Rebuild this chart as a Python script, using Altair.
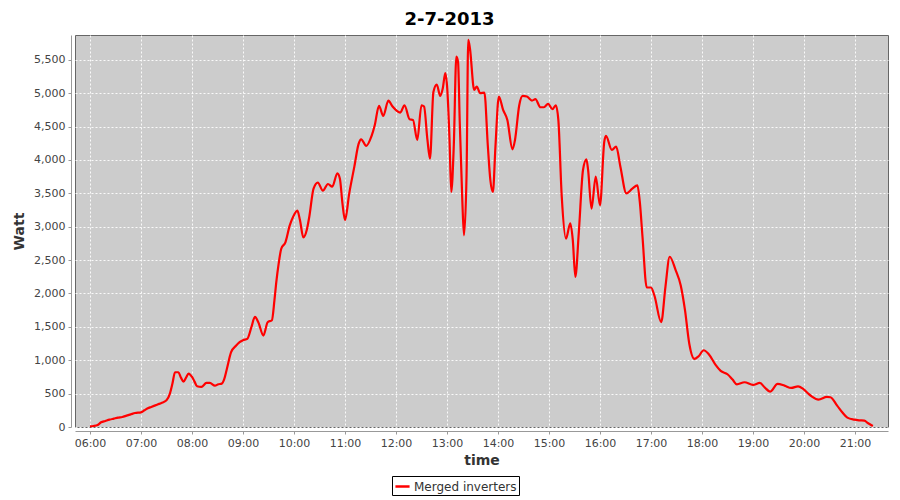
import altair as alt
import pandas as pd

times = ["06:00","06:04","06:09","06:13","06:18","06:23","06:28","06:33","06:38","06:43","06:48","06:53",
         "07:00","07:04","07:08","07:12","07:16","07:20","07:24","07:30","07:34","07:37","07:40","07:44",
         "07:47","07:50","07:53","07:56","08:00","08:03","08:06","08:11","08:17","08:21","08:27","08:31",
         "08:35","08:38","08:41","08:46","08:52","08:56","09:00","09:05","09:10","09:14","09:18","09:24",
         "09:29","09:34","09:37","09:39","09:42","09:45","09:50","09:55","09:59","10:04","10:07","10:11",
         "10:15","10:18","10:23","10:28","10:34","10:40","10:45","10:51","10:54","10:57","11:00","11:05",
         "11:11","11:16","11:19","11:25","11:31","11:35","11:40","11:45","11:51","11:56","12:05","12:10",
         "12:16","12:20","12:25","12:30","12:33","12:37","12:40","12:44","12:48","12:52","12:55","12:58",
         "13:00","13:03","13:05","13:08","13:11","13:13","13:15","13:18","13:20","13:23","13:25","13:27",
         "13:32","13:35","13:39","13:44","13:48","13:51","13:54","13:57","14:01","14:06","14:11","14:17",
         "14:20","14:25","14:29","14:34","14:40","14:44","14:50","14:54","14:59","15:04","15:08","15:11",
         "15:15","15:20","15:25","15:28","15:31","15:35","15:40","15:44","15:46","15:50","15:55","16:00",
         "16:05","16:07","16:14","16:19","16:24","16:31","16:38","16:44","16:47","16:50","16:55","17:00",
         "17:04","17:12","17:17","17:22","17:29","17:35","17:40","17:45","17:51","17:56","18:02","18:08",
         "18:16","18:22","18:30","18:36","18:41","18:50","19:00","19:08","19:14","19:20","19:29","19:37",
         "19:45","19:53","19:59","20:05","20:09","20:17","20:27","20:31","20:39","20:45","20:51","20:59",
         "21:05","21:11","21:15","21:21"]

watts = [10,15,30,70,90,110,125,140,150,170,190,210,
         220,250,280,300,320,340,360,400,500,650,820,820,
         740,680,740,800,750,680,610,600,660,660,620,640,
         650,720,870,1120,1220,1270,1300,1320,1500,1650,1570,1370,
         1570,1600,1900,2150,2450,2670,2770,3020,3150,3240,3100,2840,
         2950,3150,3570,3660,3540,3640,3600,3800,3720,3350,3100,3500,
         3900,4240,4310,4210,4350,4520,4810,4660,4890,4800,4710,4820,
         4610,4600,4300,4820,4800,4300,4020,5020,5130,4960,5070,5300,
         5120,4300,3520,4220,5550,5470,4570,3400,2870,3770,5800,5670,
         5050,5100,5000,5010,4220,3700,3520,4200,4950,4750,4600,4160,
         4300,4820,4960,4950,4890,4910,4790,4790,4840,4760,4820,4600,
         3450,2820,3050,2800,2250,2900,3850,4010,3850,3270,3750,3320,
         4270,4360,4150,4200,3900,3500,3570,3620,3350,2850,2090,2090,
         1970,1570,2100,2550,2350,2120,1750,1250,1020,1060,1150,1090,
         930,840,790,710,640,670,630,660,590,530,645,620,
         585,610,570,500,460,410,450,445,320,220,140,110,
         100,95,60,15]

series_name = "Merged inverters"
chart_title = "2-7-2013"
y_ticks = [0, 500, 1000, 1500, 2000, 2500, 3000, 3500, 4000, 4500, 5000, 5500]

df = pd.DataFrame({
    "time": ["2013-07-02T" + t + ":00" for t in times],
    "watt": watts,
    "series": [series_name] * len(times),
})

x_hours = [alt.DateTime(year=2013, month=7, date=2, hours=h) for h in range(6, 22)]

line = alt.Chart(df).mark_line(strokeWidth=2.2, interpolate="monotone").encode(
    x=alt.X("time:T",
            title="time",
            scale=alt.Scale(domain=[alt.DateTime(year=2013, month=7, date=2, hours=5, minutes=42, seconds=21),
                                    alt.DateTime(year=2013, month=7, date=2, hours=21, minutes=38, seconds=50)]),
            axis=alt.Axis(format="%H:%M", values=x_hours, offset=4, tickSize=3, labelPadding=3,
                          domainColor="#999999", tickColor="#999999", labelColor="#444444",
                          labelFontSize=11, labelFont="DejaVu Sans",
                          titleFont="DejaVu Sans", titleFontSize=14, titleFontWeight="bold",
                          titleColor="#333333", titlePadding=5,
                          grid=True, gridColor="white", gridDash=[2, 2], gridOpacity=0.9)),
    y=alt.Y("watt:Q",
            title="Watt",
            scale=alt.Scale(domain=[0, 5872], nice=False, zero=True),
            axis=alt.Axis(values=y_ticks, format=",d", offset=4, tickSize=3, labelPadding=3,
                          domainColor="#999999", tickColor="#999999", labelColor="#444444",
                          labelFontSize=11, labelFont="DejaVu Sans",
                          titleFont="DejaVu Sans", titleFontSize=14, titleFontWeight="bold",
                          titleColor="#333333", titlePadding=7,
                          grid=True, gridColor="white", gridDash=[2, 2], gridOpacity=0.9)),
    color=alt.Color("series:N",
                    scale=alt.Scale(range=["#ff0000"]),
                    legend=alt.Legend(title=None, orient="none", legendX=317, legendY=441,
                                      strokeColor="black", fillColor="white", padding=2,
                                      symbolType="stroke", symbolStrokeWidth=2.5, symbolSize=200,
                                      labelFont="DejaVu Sans", labelFontSize=12, labelColor="#333333",
                                      labelOffset=3)),
)

chart = line.properties(
    width=813,
    height=392,
    padding={"left": 67, "top": 27, "right": 4, "bottom": 70},
    autosize=alt.AutoSizeParams(type="none"),
    background="white",
    title=alt.TitleParams(chart_title, font="DejaVu Sans", fontSize=18, fontWeight="bold",
                          color="black", anchor="middle", dx=-32, offset=6),
).configure_view(
    fill="#cccccc", stroke="#666666", strokeWidth=1
)

chart.save("out.html", embed_options={"renderer": "svg", "actions": False})
